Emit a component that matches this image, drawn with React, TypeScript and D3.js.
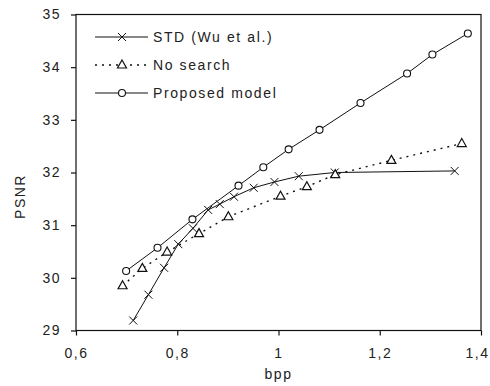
import { useEffect, useRef } from "react";
import * as d3 from "d3";

type Pt = [number, number];

// STD (Wu et al.)
const stdBpp = [0.713, 0.743, 0.774, 0.802, 0.831, 0.861, 0.884, 0.912, 0.951, 0.992, 1.04, 1.111, 1.348];
const stdPsnr = [29.19, 29.68, 30.19, 30.64, 30.94, 31.29, 31.4, 31.54, 31.71, 31.82, 31.93, 32.0, 32.03];

// No search
const noSearchBpp = [0.692, 0.731, 0.78, 0.843, 0.901, 1.004, 1.056, 1.112, 1.223, 1.362];
const noSearchPsnr = [29.85, 30.18, 30.49, 30.84, 31.16, 31.55, 31.73, 31.96, 32.23, 32.55];

// Proposed model
const propBpp = [0.699, 0.761, 0.83, 0.921, 0.97, 1.02, 1.081, 1.162, 1.254, 1.304, 1.374];
const propPsnr = [30.13, 30.57, 31.11, 31.75, 32.1, 32.44, 32.81, 33.32, 33.88, 34.24, 34.64];

const xTicks = [0.6, 0.8, 1.0, 1.2, 1.4];
const yTicks = [29, 30, 31, 32, 33, 34, 35];
const legendLabels = ["STD (Wu et al.)", "No search", "Proposed model"];

const W = 490;
const H = 386;
const FONT = "'Liberation Sans', Arial, sans-serif";
const INK = "#111";

function zip(a: number[], b: number[]): Pt[] {
  return a.map((v, i) => [v, b[i]]);
}

function drawMarker(
  g: d3.Selection<SVGGElement, unknown, null, undefined>,
  kind: string,
  x: number,
  y: number
) {
  if (kind === "cross") {
    const s = 4;
    g.append("path")
      .attr("d", `M${x - s},${y - s}L${x + s},${y + s}M${x - s},${y + s}L${x + s},${y - s}`)
      .attr("stroke", INK)
      .attr("stroke-width", 1)
      .attr("fill", "none");
  } else if (kind === "triangle") {
    g.append("path")
      .attr("d", `M${x},${y - 5}L${x + 4.5},${y + 3}L${x - 4.5},${y + 3}Z`)
      .attr("stroke", INK)
      .attr("stroke-width", 1.2)
      .attr("fill", "#fff");
  } else {
    g.append("circle")
      .attr("cx", x)
      .attr("cy", y)
      .attr("r", 3.5)
      .attr("stroke", INK)
      .attr("stroke-width", 1.1)
      .attr("fill", "#fff");
  }
}

export default function App() {
  const svgRef = useRef<SVGSVGElement>(null);

  useEffect(() => {
    if (!svgRef.current) return;
    const svg = d3.select(svgRef.current);
    svg.selectAll("*").remove();

    const left = 76;
    const right = 481;
    const top = 14.5;
    const bottom = 330.5;

    const x = d3.scaleLinear().domain([0.6, 1.4]).range([left, right]);
    const y = d3.scaleLinear().domain([29, 35]).range([bottom, top]);

    svg.append("rect").attr("width", W).attr("height", H).attr("fill", "#fff");

    // frame
    svg
      .append("rect")
      .attr("x", left)
      .attr("y", top)
      .attr("width", right - left)
      .attr("height", bottom - top)
      .attr("fill", "none")
      .attr("stroke", INK)
      .attr("stroke-width", 1.2);

    // y axis
    const yAxis = svg
      .append("g")
      .attr("transform", `translate(${left},0)`)
      .call(d3.axisLeft(y).tickValues(yTicks).tickSize(5).tickPadding(10).tickFormat((d) => `${d}`));
    yAxis.select(".domain").remove();

    // x axis
    const xAxis = svg
      .append("g")
      .attr("transform", `translate(0,${bottom})`)
      .call(
        d3
          .axisBottom(x)
          .tickValues(xTicks)
          .tickSize(5)
          .tickPadding(13)
          .tickFormat((d) => d3.format("~g")(d as number).replace(".", ","))
      );
    xAxis.select(".domain").remove();

    svg.selectAll(".tick line").attr("stroke", INK).attr("stroke-width", 1.2);
    svg
      .selectAll(".tick text")
      .attr("fill", "#222")
      .style("font-family", FONT)
      .style("font-size", "14px")
      .style("letter-spacing", "1.5px");

    // last x label sits flush with the right edge, as in the original
    xAxis
      .selectAll<SVGTextElement, number>(".tick text")
      .filter((d) => d === 1.4)
      .attr("text-anchor", "end")
      .attr("x", 8);

    // axis titles
    svg
      .append("text")
      .attr("x", x(1.0))
      .attr("y", 379)
      .attr("text-anchor", "middle")
      .attr("fill", "#222")
      .style("font-family", FONT)
      .style("font-size", "14px")
      .style("letter-spacing", "1.5px")
      .text("bpp");

    svg
      .append("text")
      .attr("transform", `translate(25,${(top + bottom) / 2 + 24}) rotate(-90)`)
      .attr("text-anchor", "middle")
      .attr("fill", "#222")
      .style("font-family", FONT)
      .style("font-size", "14px")
      .style("letter-spacing", "1.5px")
      .text("PSNR");

    const series = [
      { pts: zip(stdBpp, stdPsnr), marker: "cross", dash: null },
      { pts: zip(noSearchBpp, noSearchPsnr), marker: "triangle", dash: "2,5" },
      { pts: zip(propBpp, propPsnr), marker: "circle", dash: null },
    ];

    const line = d3
      .line<Pt>()
      .x((d) => x(d[0]))
      .y((d) => y(d[1]));

    const plot = svg.append("g");
    series.forEach((s) => {
      plot
        .append("path")
        .datum(s.pts)
        .attr("d", line)
        .attr("fill", "none")
        .attr("stroke", INK)
        .attr("stroke-width", s.dash ? 1.4 : 1)
        .attr("stroke-dasharray", s.dash);
    });
    series.forEach((s) => {
      s.pts.forEach((p) => drawMarker(plot, s.marker, x(p[0]), y(p[1])));
    });

    // legend
    const legend = svg.append("g");
    series.forEach((s, i) => {
      const ly = 37 + i * 28;
      legend
        .append("line")
        .attr("x1", 95)
        .attr("x2", 148)
        .attr("y1", ly)
        .attr("y2", ly)
        .attr("stroke", INK)
        .attr("stroke-width", s.dash ? 1.4 : 1)
        .attr("stroke-dasharray", s.dash);
      drawMarker(legend, s.marker, 122, ly);
      legend
        .append("text")
        .attr("x", 153)
        .attr("y", ly + 5)
        .attr("fill", "#222")
        .style("font-family", FONT)
        .style("font-size", "14px")
        .style("letter-spacing", "1.6px")
        .text(legendLabels[i]);
    });
  }, []);

  return (
    <svg
      ref={svgRef}
      width={W}
      height={H}
      style={{ position: "absolute", left: 0, top: 0, display: "block" }}
    />
  );
}
